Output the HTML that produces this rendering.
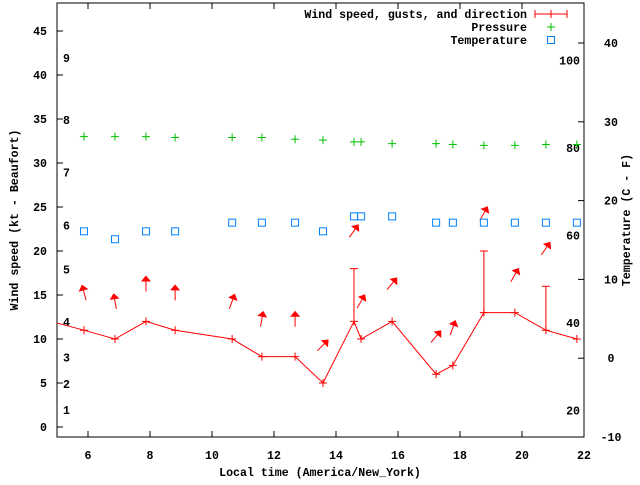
<!DOCTYPE html>
<html><head><meta charset="utf-8"><style>
body{margin:0;background:#fff}
svg text{font-family:"Liberation Mono",monospace;font-weight:bold;font-size:11.6px;fill:#000}
</style></head><body>
<svg id="c" width="640" height="480" xmlns="http://www.w3.org/2000/svg"></svg>
<script>
const hours=[4.8,5.87,6.87,7.87,8.81,10.65,11.61,12.68,13.58,14.58,14.81,15.81,17.23,17.77,18.77,19.77,20.77,21.77];
const wind=[12,11,10,12,11,10,8,8,5,12,10,12,6,7,13,13,11,10];
const gust=[null,null,null,null,null,null,null,null,null,18,null,null,null,null,20,null,16,null];
const dirs=[null,-15,-10,0,0,20,10,0,45,35,30,40,40,20,30,30,35,null];
const pressure=[null,33,33,33,32.9,32.9,32.9,32.7,32.6,32.4,32.4,32.2,32.2,32.1,32.0,32.0,32.1,32.1];
const temp=[null,16.1,15.1,16.1,16.1,17.2,17.2,17.2,16.1,18,18,18,17.2,17.2,17.2,17.2,17.2,17.2];
const xTicks=[6,8,10,12,14,16,18,20,22];
const yTicks=[0,5,10,15,20,25,30,35,40,45];
const tTicks=[-10,0,10,20,30,40];
const fTicks=[20,40,60,80,100];
const bft=[1,4,7,11,17,22,28,34,41];
const L=57,R=584,T=3,B=437;
const X=h=>L+(h-5)*31;
const Y=v=>427-v*8.8;
const TY=c=>437-(c+10)*7.88;
const svg=document.getElementById('c');
const NS='http://www.w3.org/2000/svg';
function mk(tag,a,parent){const e=document.createElementNS(NS,tag);for(const k in a)e.setAttribute(k,a[k]);(parent||svg).appendChild(e);return e;}
function txt(x,y,s,anchor){const t=mk('text',{x:x,y:y,'text-anchor':anchor||'start'});t.textContent=s;return t;}
const defs=mk('defs',{});const cp=mk('clipPath',{id:'clip'},defs);mk('rect',{x:L,y:T,width:R-L,height:B-T},cp);
// frame
let e=mk('rect',{x:L,y:T,width:R-L,height:B-T,fill:'none',stroke:'#000','stroke-width':1});

xTicks.forEach(h=>{const x=X(h);mk('line',{x1:x,x2:x,y1:B,y2:B-6,stroke:'#000'});mk('line',{x1:x,x2:x,y1:T,y2:T+6,stroke:'#000'});
 const t=txt(x,459,String(h),'middle');});
yTicks.forEach(v=>{const y=Y(v);mk('line',{x1:L,x2:L+6,y1:y,y2:y,stroke:'#000'});
 const t=txt(47,y+4,String(v),'end');});
tTicks.forEach(v=>{const y=TY(v);mk('line',{x1:R,x2:R-6,y1:y,y2:y,stroke:'#000'});
 const t=txt(611,y+4,String(v),'middle');});
fTicks.forEach(f=>{const c=(f-32)*5/9;const t=txt(580,TY(c)+4,String(f),'end');});
bft.forEach((k,i)=>{const t=txt(63,Y(k)-4,String(i+1),'start');});
// axis titles
e=txt(320,476,'Local time (America/New_York)','middle');
e=txt(0,0,'Wind speed (kt - Beaufort)','middle');e.setAttribute('transform','translate(18,220) rotate(-90)');
e=txt(0,0,'Temperature (C - F)','middle');e.setAttribute('transform','translate(630,220) rotate(-90)');
const g=mk('g',{'clip-path':'url(#clip)'});
// wind line
let d='';hours.forEach((h,i)=>{d+=(i?'L':'M')+X(h)+' '+Y(wind[i]);});
e=mk('path',{d:d,fill:'none',stroke:'#f00','stroke-width':1},g);
hours.forEach((h,i)=>{const x=X(h),y=Y(wind[i]);
 e=mk('path',{d:`M${x-4} ${y}H${x+4}M${x} ${y-4}V${y+4}`,stroke:'#f00'},g);
 if(gust[i]!=null){const gy=Y(gust[i]);e=mk('path',{d:`M${x} ${y}V${gy}M${x-4} ${gy}H${x+4}`,stroke:'#f00'},g);}
 if(dirs[i]!=null){const top=Math.max(wind[i],gust[i]||0)+4.3;const cy=Y(top);
  const a=mk('g',{transform:`translate(${x} ${cy}) rotate(${dirs[i]})`},g);
  
  mk('line',{x1:0,y1:8,x2:0,y2:-5,stroke:'#f00'},a);mk('polygon',{points:'0,-8 -5,-2 5,-2',fill:'#f00'},a);}
});
hours.forEach((h,i)=>{if(pressure[i]==null)return;const x=X(h),y=Y(pressure[i]);
 e=mk('path',{d:`M${x-4} ${y}H${x+4}M${x} ${y-4}V${y+4}`,stroke:'#00c000'},g);});
hours.forEach((h,i)=>{if(temp[i]==null)return;const x=X(h),y=TY(temp[i]);
 e=mk('rect',{x:x-3.5,y:y-3.5,width:7,height:7,fill:'none',stroke:'#0080ff'},g);});
// legend
const lg=mk('g',{});
[['Wind speed, gusts, and direction',18],['Pressure',31],['Temperature',44]].forEach(([s,y])=>{const t=mk('text',{x:527,y:y,'text-anchor':'end'},lg);t.textContent=s;});
mk('path',{d:'M535 14H567M535 10V18M567 10V18M551 10V18',stroke:'#f00'},lg);
mk('path',{d:'M547 27H555M551 23V31',stroke:'#00c000'},lg);
mk('rect',{x:547.5,y:36.5,width:7,height:7,fill:'none',stroke:'#0080ff'},lg);
</script>
</body></html>
